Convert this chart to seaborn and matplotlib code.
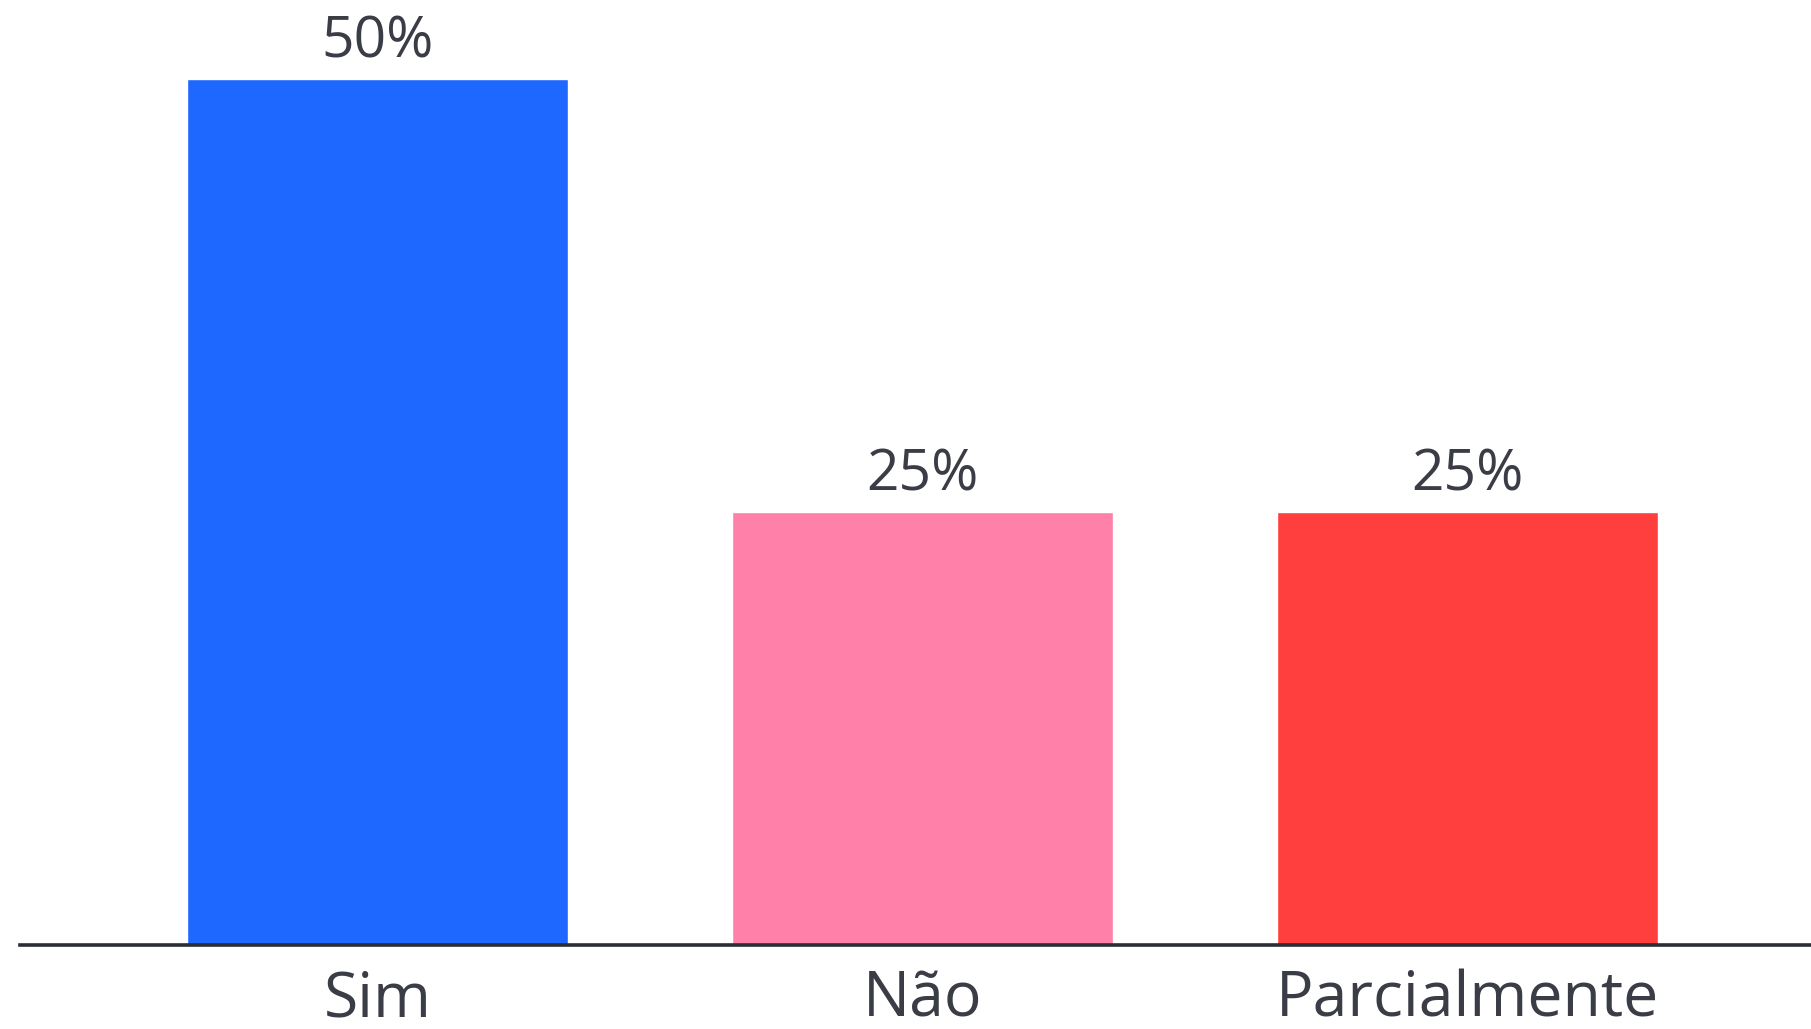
import matplotlib
matplotlib.use("Agg")
import matplotlib.pyplot as plt
import seaborn as sns
import pandas as pd

categories = ["Sim", "Não", "Parcialmente"]
values = [50, 25, 25]
value_labels = ["50%", "25%", "25%"]
colors = ["#1E68FF", "#FF80A8", "#FF3F3D"]

sns.set_theme(style="white")
plt.rcParams['font.family'] = ['Open Sans', 'DejaVu Sans']

df = pd.DataFrame({"cat": categories, "val": values})

W, H = 1811, 1029
fig = plt.figure(figsize=(W / 100, H / 100), dpi=100)
ax = fig.add_axes([20 / W, (H - 945) / H, (W - 20) / W, 945 / H])

sns.barplot(data=df, x="cat", y="val", hue="cat", palette=colors, order=categories,
            hue_order=categories, width=0.7, legend=False, ax=ax, saturation=1)

ax.set_ylim(0, 54.53)
ax.set_xlim(-0.656, 2.630)
for s in ["top", "right", "left"]:
    ax.spines[s].set_visible(False)
ax.spines["bottom"].set_color("#2a2d35")
ax.spines["bottom"].set_linewidth(2.6)
ax.set_yticks([])
ax.set_xlabel("")
ax.set_ylabel("")
ax.tick_params(axis="x", length=0, pad=17, labelsize=45, labelcolor="#3a3d45")

for i, (v, lab) in enumerate(zip(values, value_labels)):
    ax.annotate(lab, (i, v), xytext=(0, 5), textcoords="offset points",
                ha="center", va="bottom", fontsize=41, color="#3a3d45")

fig.savefig("out.png", dpi=100)
